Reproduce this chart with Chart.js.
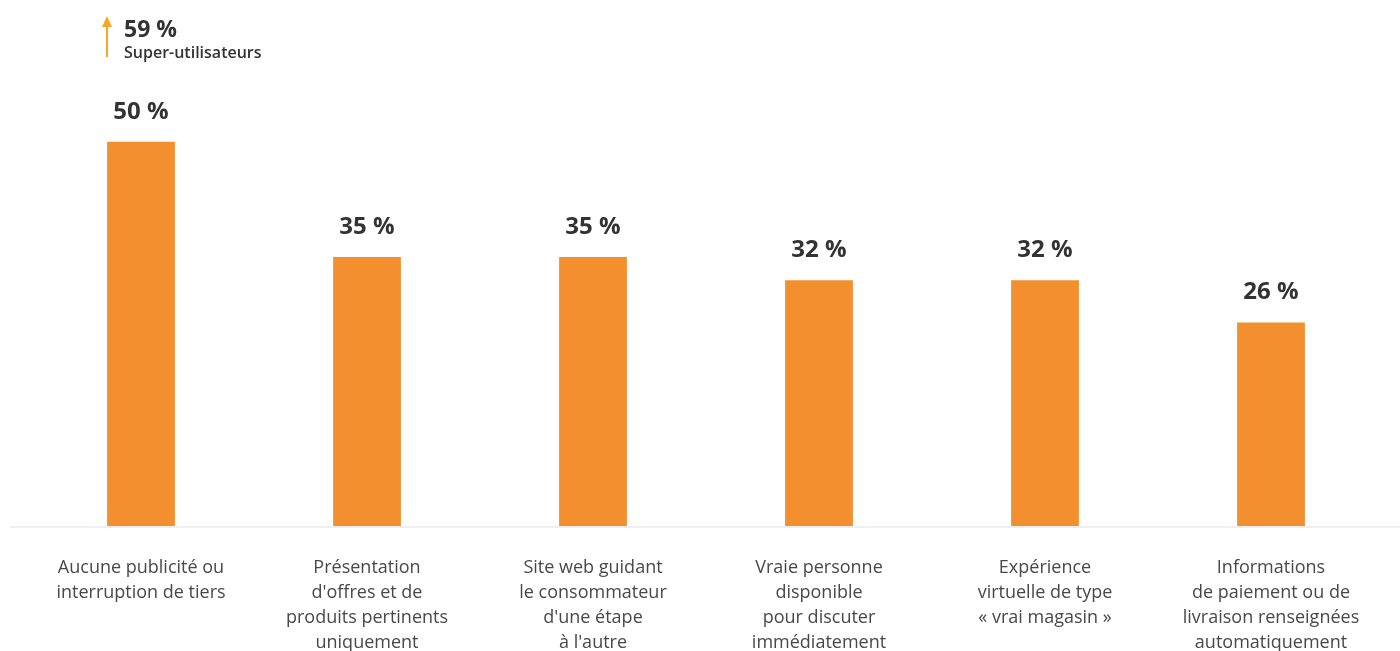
<!DOCTYPE html>
<html>
<head>
<meta charset="utf-8">
<script src="https://cdn.jsdelivr.net/npm/chart.js@4"></script>
<style>
  html, body { margin: 0; padding: 0; background: #fff; }
  #wrap { width: 1400px; height: 651px; position: relative; }
</style>
</head>
<body>
<div id="wrap"><canvas id="myChart" width="1400" height="651"></canvas></div>
<script>
// Données du graphique
const categories = [
  ["Aucune publicité ou", "interruption de tiers"],
  ["Présentation", "d'offres et de", "produits pertinents", "uniquement"],
  ["Site web guidant", "le consommateur", "d'une étape", "à l'autre"],
  ["Vraie personne", "disponible", "pour discuter", "immédiatement"],
  ["Expérience", "virtuelle de type", "« vrai magasin »"],
  ["Informations", "de paiement ou de", "livraison renseignées", "automatiquement"]
];
const valeurs = [50, 35, 35, 32, 32, 26.5];
const etiquettes = ["50 %", "35 %", "35 %", "32 %", "32 %", "26 %"];
const superUtilisateurs = "59 %";
const superLabel = "Super-utilisateurs";

const police = "'Open Sans', 'Noto Sans', sans-serif";

// Etiquettes de valeur au-dessus des barres + ligne de base + annotation
const decorations = {
  id: "decorations",
  afterDatasetsDraw(chart) {
    const ctx = chart.ctx;
    const meta = chart.getDatasetMeta(0);
    const y0 = chart.scales.y.getPixelForValue(0);

    ctx.save();
    // ligne de base
    ctx.strokeStyle = "#efefef";
    ctx.lineWidth = 2;
    ctx.beginPath();
    ctx.moveTo(10, y0 + 1);
    ctx.lineTo(chart.width, y0 + 1);
    ctx.stroke();

    // valeurs
    ctx.fillStyle = "#333";
    ctx.font = "bold 24px " + police;
    ctx.textAlign = "center";
    ctx.textBaseline = "middle";
    meta.data.forEach((bar, i) => {
      ctx.fillText(etiquettes[i], bar.x, bar.y - 30);
    });

    // annotation super-utilisateurs
    const x = meta.data[0].x;
    ctx.strokeStyle = "#f7a823";
    ctx.fillStyle = "#f7a823";
    ctx.lineWidth = 2;
    ctx.beginPath();
    ctx.moveTo(x - 34, 57);
    ctx.lineTo(x - 34, 22);
    ctx.stroke();
    ctx.beginPath();
    ctx.moveTo(x - 39, 27);
    ctx.lineTo(x - 34, 16);
    ctx.lineTo(x - 29, 27);
    ctx.closePath();
    ctx.fill();

    ctx.fillStyle = "#333";
    ctx.textAlign = "left";
    ctx.font = "bold 23px " + police;
    ctx.fillText(superUtilisateurs, x - 17, 30);
    ctx.font = "600 16px " + police;
    ctx.fillText(superLabel, x - 17, 53);
    ctx.restore();
  }
};

new Chart(document.getElementById("myChart"), {
  type: "bar",
  data: {
    labels: categories,
    datasets: [{
      data: valeurs,
      backgroundColor: "#f38f2f",
      borderWidth: 0,
      barPercentage: 0.3,
      categoryPercentage: 1
    }]
  },
  options: {
    responsive: false,
    animation: false,
    layout: { padding: { top: 65, left: 28, right: 16, bottom: 0 } },
    plugins: { legend: { display: false }, tooltip: { enabled: false } },
    scales: {
      x: {
        grid: { display: false, drawTicks: false },
        border: { display: false },
        ticks: {
          color: "#484848",
          padding: 29,
          maxRotation: 0,
          autoSkip: false,
          font: { family: police, size: 18, lineHeight: 1.4 }
        },
        afterFit(scale) { scale.height = 125; }
      },
      y: {
        display: false,
        min: 0,
        max: 60
      }
    }
  },
  plugins: [decorations]
});
</script>
</body>
</html>
